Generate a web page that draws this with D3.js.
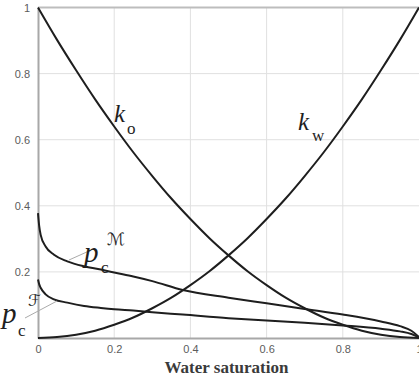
<!DOCTYPE html>
<html><head><meta charset="utf-8">
<script src="https://cdn.jsdelivr.net/npm/d3@7/dist/d3.min.js"></script>
<style>body{margin:0;background:#fff}svg{display:block}</style>
</head><body>
<svg id="c" width="419" height="388"></svg>
<script>
// Data
const sat = [0,0.05,0.1,0.15,0.2,0.25,0.3,0.35,0.4,0.45,0.5,0.55,0.6,0.65,0.7,0.75,0.8,0.85,0.9,0.95,1];
const ko  = [1,0.902,0.81,0.722,0.64,0.562,0.49,0.422,0.36,0.302,0.25,0.202,0.16,0.122,0.09,0.062,0.04,0.022,0.01,0.003,0];
const kw  = [0,0.003,0.01,0.022,0.04,0.062,0.09,0.122,0.16,0.202,0.25,0.302,0.36,0.422,0.49,0.562,0.64,0.722,0.81,0.902,1];
const pcSat = [0,0.003,0.007,0.02,0.042,0.077,0.121,0.165,0.2,0.25,0.3,0.38,0.5,0.6,0.7,0.8,0.9,0.95,0.98,1];
const pcM   = [0.378,0.34,0.312,0.277,0.252,0.232,0.217,0.207,0.198,0.186,0.172,0.145,0.122,0.105,0.088,0.071,0.05,0.036,0.022,0.003];
const pcF   = [0.177,0.163,0.152,0.132,0.117,0.107,0.097,0.091,0.087,0.083,0.078,0.071,0.06,0.053,0.046,0.038,0.028,0.02,0.012,0.002];
const xTicks = [0,0.2,0.4,0.6,0.8,1];
const yTicks = [0.2,0.4,0.6,0.8,1];
const xTitle = "Water saturation";

const svg = d3.select("#c");
const x = d3.scaleLinear().domain([0,1]).range([38,419]);
const y = d3.scaleLinear().domain([0,1]).range([338,7.5]);

// grid
svg.append("g").selectAll("line").data([0.2,0.4,0.6,0.8]).join("line")
  .attr("x1",d=>x(d)).attr("x2",d=>x(d)).attr("y1",y(1)).attr("y2",y(0))
  .attr("stroke","#e0e0e0").attr("stroke-width",1);
svg.append("g").selectAll("line").data([0.2,0.4,0.6,0.8]).join("line")
  .attr("x1",x(0)).attr("x2",x(1)).attr("y1",d=>y(d)).attr("y2",d=>y(d))
  .attr("stroke","#e0e0e0").attr("stroke-width",1);

// frame
svg.append("line").attr("x1",x(0)).attr("x2",x(1)).attr("y1",y(1)).attr("y2",y(1))
  .attr("stroke","#bdbdbd").attr("stroke-width",2);

// axes
const xa = svg.append("g").attr("transform",`translate(0,${y(0)})`)
  .call(d3.axisBottom(x).tickValues(xTicks).tickFormat(d3.format("~g")).tickSize(0).tickPadding(7));
const ya = svg.append("g").attr("transform",`translate(${x(0)},0)`)
  .call(d3.axisLeft(y).tickValues(yTicks).tickFormat(d3.format("~g")).tickSize(0).tickPadding(8));
[xa,ya].forEach(a=>{
  a.select(".domain").attr("stroke","#a8a8a8").attr("stroke-width",2);
  a.selectAll("text").attr("font-family","Liberation Sans, Arial, sans-serif").attr("font-size",11).attr("fill","#5c5c5c");
});

// curves
const line = (xs,ys)=>d3.line().x((d,i)=>x(xs[i])).y(d=>y(d)).curve(d3.curveMonotoneX)(ys);
[[sat,ko],[sat,kw],[pcSat,pcM],[pcSat,pcF]].forEach(([xs,ys])=>{
  svg.append("path").attr("d",line(xs,ys)).attr("fill","none")
    .attr("stroke","#1e1e1e").attr("stroke-width",2);
});

// leader lines
svg.append("line").attr("x1",69).attr("y1",260).attr("x2",89).attr("y2",251).attr("stroke","#aaa").attr("stroke-width",1);
svg.append("line").attr("x1",25).attr("y1",318).attr("x2",57).attr("y2",301).attr("stroke","#aaa").attr("stroke-width",1);

// labels
const serif = "Liberation Serif, Times New Roman, serif";
function lab(tx,ty,t,size,italic){
  svg.append("text").attr("x",tx).attr("y",ty).text(t).attr("font-family",serif)
    .attr("font-size",size).attr("font-style",italic?"italic":"normal").attr("fill","#1e1e1e");
}
lab(114,122,"k",25,true); lab(127,134,"o",17,false);
lab(298,130,"k",25,true); lab(312,141,"w",17,false);
lab(84,262,"p",29,true); lab(101,273,"c",17,false);
svg.append("text").attr("x",107).attr("y",245).text("ℳ").attr("font-family","DejaVu Sans").attr("font-size",17).attr("fill","#2a2a2a");
lab(2,323,"p",29,true); lab(18,336,"c",17,false);
svg.append("text").attr("x",28).attr("y",306).text("ℱ").attr("font-family","DejaVu Sans").attr("font-size",16).attr("fill","#2a2a2a");

svg.append("text").attr("x",(x(0)+x(1))/2-2).attr("y",373).attr("text-anchor","middle")
  .text(xTitle).attr("font-family",serif).attr("font-size",17).attr("font-weight","bold").attr("fill","#3a3a3a");
</script>
</body></html>
